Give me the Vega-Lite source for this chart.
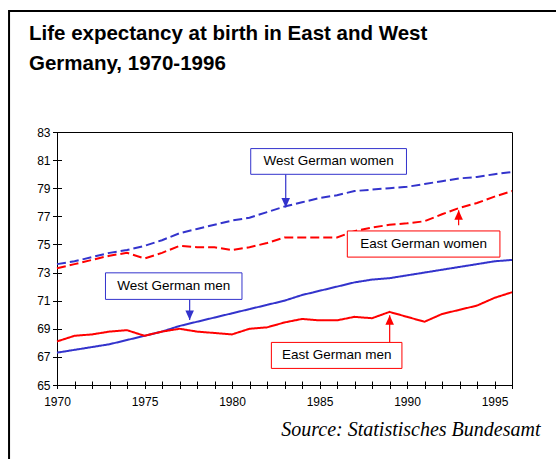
{
  "$schema": "https://vega.github.io/schema/vega-lite/v6.json",
  "autosize": "none",
  "width": 455,
  "height": 253,
  "padding": {"left": 57, "top": 132, "right": 44, "bottom": 74},
  "background": "white",
  "title": {
    "text": ["Life expectancy at birth in East and West", "Germany, 1970-1996"],
    "anchor": "start",
    "frame": "group",
    "font": "Liberation Sans",
    "fontSize": 20.5,
    "fontWeight": "bold",
    "lineHeight": 30,
    "color": "black",
    "dx": -28,
    "dy": 65,
    "offset": 0
  },
  "config": {
    "view": {"stroke": "black", "strokeWidth": 1},
    "axis": {"grid": false, "domain": false, "tickColor": "black", "labelColor": "black", "labelFont": "Liberation Sans", "labelFontSize": 12, "labelOverlap": false, "labelFlush": false}
  },
  "datasets": {
    "series": [
      {"year": 1970, "series": "West German women", "value": 73.6},
      {"year": 1971, "series": "West German women", "value": 73.8},
      {"year": 1972, "series": "West German women", "value": 74.1},
      {"year": 1973, "series": "West German women", "value": 74.4},
      {"year": 1974, "series": "West German women", "value": 74.6},
      {"year": 1975, "series": "West German women", "value": 74.9},
      {"year": 1976, "series": "West German women", "value": 75.3},
      {"year": 1977, "series": "West German women", "value": 75.8},
      {"year": 1978, "series": "West German women", "value": 76.1},
      {"year": 1979, "series": "West German women", "value": 76.4},
      {"year": 1980, "series": "West German women", "value": 76.7},
      {"year": 1981, "series": "West German women", "value": 76.9},
      {"year": 1982, "series": "West German women", "value": 77.3},
      {"year": 1983, "series": "West German women", "value": 77.7},
      {"year": 1984, "series": "West German women", "value": 78.0},
      {"year": 1985, "series": "West German women", "value": 78.3},
      {"year": 1986, "series": "West German women", "value": 78.5},
      {"year": 1987, "series": "West German women", "value": 78.8},
      {"year": 1988, "series": "West German women", "value": 78.9},
      {"year": 1989, "series": "West German women", "value": 79.0},
      {"year": 1990, "series": "West German women", "value": 79.1},
      {"year": 1991, "series": "West German women", "value": 79.3},
      {"year": 1992, "series": "West German women", "value": 79.5},
      {"year": 1993, "series": "West German women", "value": 79.7},
      {"year": 1994, "series": "West German women", "value": 79.8},
      {"year": 1995, "series": "West German women", "value": 80.0},
      {"year": 1996, "series": "West German women", "value": 80.15},
      {"year": 1970, "series": "East German women", "value": 73.3},
      {"year": 1971, "series": "East German women", "value": 73.6},
      {"year": 1972, "series": "East German women", "value": 73.9},
      {"year": 1973, "series": "East German women", "value": 74.2},
      {"year": 1974, "series": "East German women", "value": 74.4},
      {"year": 1975, "series": "East German women", "value": 74.0},
      {"year": 1976, "series": "East German women", "value": 74.4},
      {"year": 1977, "series": "East German women", "value": 74.9},
      {"year": 1978, "series": "East German women", "value": 74.8},
      {"year": 1979, "series": "East German women", "value": 74.8},
      {"year": 1980, "series": "East German women", "value": 74.6},
      {"year": 1981, "series": "East German women", "value": 74.8},
      {"year": 1982, "series": "East German women", "value": 75.1},
      {"year": 1983, "series": "East German women", "value": 75.5},
      {"year": 1984, "series": "East German women", "value": 75.5},
      {"year": 1985, "series": "East German women", "value": 75.5},
      {"year": 1986, "series": "East German women", "value": 75.5},
      {"year": 1987, "series": "East German women", "value": 75.95},
      {"year": 1988, "series": "East German women", "value": 76.2},
      {"year": 1989, "series": "East German women", "value": 76.4},
      {"year": 1990, "series": "East German women", "value": 76.5},
      {"year": 1991, "series": "East German women", "value": 76.65},
      {"year": 1992, "series": "East German women", "value": 77.15},
      {"year": 1993, "series": "East German women", "value": 77.6},
      {"year": 1994, "series": "East German women", "value": 77.95},
      {"year": 1995, "series": "East German women", "value": 78.4},
      {"year": 1996, "series": "East German women", "value": 78.8},
      {"year": 1970, "series": "West German men", "value": 67.3},
      {"year": 1971, "series": "West German men", "value": 67.5},
      {"year": 1972, "series": "West German men", "value": 67.7},
      {"year": 1973, "series": "West German men", "value": 67.9},
      {"year": 1974, "series": "West German men", "value": 68.2},
      {"year": 1975, "series": "West German men", "value": 68.5},
      {"year": 1976, "series": "West German men", "value": 68.8},
      {"year": 1977, "series": "West German men", "value": 69.2},
      {"year": 1978, "series": "West German men", "value": 69.5},
      {"year": 1979, "series": "West German men", "value": 69.8},
      {"year": 1980, "series": "West German men", "value": 70.1},
      {"year": 1981, "series": "West German men", "value": 70.4},
      {"year": 1982, "series": "West German men", "value": 70.7},
      {"year": 1983, "series": "West German men", "value": 71.0},
      {"year": 1984, "series": "West German men", "value": 71.4},
      {"year": 1985, "series": "West German men", "value": 71.7},
      {"year": 1986, "series": "West German men", "value": 72.0},
      {"year": 1987, "series": "West German men", "value": 72.3},
      {"year": 1988, "series": "West German men", "value": 72.5},
      {"year": 1989, "series": "West German men", "value": 72.6},
      {"year": 1990, "series": "West German men", "value": 72.8},
      {"year": 1991, "series": "West German men", "value": 73.0},
      {"year": 1992, "series": "West German men", "value": 73.2},
      {"year": 1993, "series": "West German men", "value": 73.4},
      {"year": 1994, "series": "West German men", "value": 73.6},
      {"year": 1995, "series": "West German men", "value": 73.8},
      {"year": 1996, "series": "West German men", "value": 73.9},
      {"year": 1970, "series": "East German men", "value": 68.1},
      {"year": 1971, "series": "East German men", "value": 68.5},
      {"year": 1972, "series": "East German men", "value": 68.6},
      {"year": 1973, "series": "East German men", "value": 68.8},
      {"year": 1974, "series": "East German men", "value": 68.9},
      {"year": 1975, "series": "East German men", "value": 68.5},
      {"year": 1976, "series": "East German men", "value": 68.8},
      {"year": 1977, "series": "East German men", "value": 69.0},
      {"year": 1978, "series": "East German men", "value": 68.8},
      {"year": 1979, "series": "East German men", "value": 68.7},
      {"year": 1980, "series": "East German men", "value": 68.6},
      {"year": 1981, "series": "East German men", "value": 69.0},
      {"year": 1982, "series": "East German men", "value": 69.1},
      {"year": 1983, "series": "East German men", "value": 69.45},
      {"year": 1984, "series": "East German men", "value": 69.7},
      {"year": 1985, "series": "East German men", "value": 69.6},
      {"year": 1986, "series": "East German men", "value": 69.6},
      {"year": 1987, "series": "East German men", "value": 69.85},
      {"year": 1988, "series": "East German men", "value": 69.75},
      {"year": 1989, "series": "East German men", "value": 70.2},
      {"year": 1990, "series": "East German men", "value": 69.85},
      {"year": 1991, "series": "East German men", "value": 69.5},
      {"year": 1992, "series": "East German men", "value": 70.05},
      {"year": 1993, "series": "East German men", "value": 70.35},
      {"year": 1994, "series": "East German men", "value": 70.65},
      {"year": 1995, "series": "East German men", "value": 71.2},
      {"year": 1996, "series": "East German men", "value": 71.6}
    ],
    "labels": [
      {"series": "West German women", "x1": 1981.07, "x2": 1989.97, "y1": 79.99, "y2": 81.82, "cx": 1985.52, "cy": 80.91, "ax": 1983.07, "from": 79.99, "tip": 77.63, "dir": "down"},
      {"series": "East German women", "x1": 1986.59, "x2": 1995.31, "y1": 74.1, "y2": 75.96, "cx": 1990.95, "cy": 75.03, "ax": 1992.95, "from": 76.37, "tip": 77.43, "dir": "up"},
      {"series": "West German men", "x1": 1972.77, "x2": 1980.57, "y1": 71.09, "y2": 72.98, "cx": 1976.67, "cy": 72.03, "ax": 1977.58, "from": 71.09, "tip": 69.62, "dir": "down"},
      {"series": "East German men", "x1": 1982.25, "x2": 1989.71, "y1": 66.18, "y2": 68.03, "cx": 1985.98, "cy": 67.11, "ax": 1989.01, "from": 68.03, "tip": 69.97, "dir": "up"}
    ],
    "frame": [
      {"x1": 1967.26, "x2": 2000, "y1": 58, "y2": 91.61}
    ]
  },
  "layer": [
    {
      "data": {"name": "frame"},
      "mark": {"type": "rect", "fill": "white", "fillOpacity": 0, "stroke": "black", "strokeWidth": 2},
      "encoding": {
        "x": {"field": "x1", "type": "quantitative",
          "scale": {"domain": [1970, 1996], "nice": false, "zero": false},
          "axis": {
            "values": [1970,1971,1972,1973,1974,1975,1976,1977,1978,1979,1980,1981,1982,1983,1984,1985,1986,1987,1988,1989,1990,1991,1992,1993,1994,1995,1996],
            "tickCount": 40,
            "format": "d",
            "labelExpr": "datum.value % 5 === 0 ? datum.label : ''",
            "offset": -4,
            "tickSize": 7.5,
            "labelPadding": 8,
            "title": "Source: Statistisches Bundesamt",
            "titleFont": "Liberation Serif",
            "titleFontStyle": "italic",
            "titleFontWeight": "normal",
            "titleFontSize": 20,
            "titleColor": "black",
            "titleAlign": "right",
            "titleBaseline": "alphabetic",
            "titleX": 483,
            "titleY": 54
          }
        },
        "x2": {"field": "x2"},
        "y": {"field": "y1", "type": "quantitative",
          "scale": {"domain": [65, 83], "nice": false, "zero": false},
          "axis": {
            "values": [65,67,69,71,73,75,77,79,81,83],
            "tickCount": 40,
            "format": "d",
            "offset": -4.5,
            "tickSize": 9,
            "labelPadding": 2.5,
            "title": null
          }
        },
        "y2": {"field": "y2"}
      }
    },
    {
      "data": {"name": "series"},
      "mark": {"type": "line", "strokeWidth": 2},
      "encoding": {
        "x": {"field": "year", "type": "quantitative"},
        "y": {"field": "value", "type": "quantitative"},
        "color": {"field": "series", "type": "nominal", "legend": null,
          "scale": {"domain": ["West German women", "East German women", "West German men", "East German men"], "range": ["#3333CC", "#FF0000", "#3333CC", "#FF0000"]}},
        "strokeDash": {"field": "series", "type": "nominal", "legend": null,
          "scale": {"domain": ["West German women", "East German women", "West German men", "East German men"], "range": [[9, 4], [9, 4], [1, 0], [1, 0]]}}
      }
    },
    {
      "data": {"name": "labels"},
      "mark": {"type": "rule", "strokeWidth": 1.2},
      "encoding": {
        "x": {"field": "ax", "type": "quantitative"},
        "y": {"field": "from", "type": "quantitative"},
        "y2": {"field": "tip"},
        "color": {"field": "series", "type": "nominal", "legend": null}
      }
    },
    {
      "data": {"name": "labels"},
      "mark": {"type": "point", "filled": true, "opacity": 1, "size": 360},
      "encoding": {
        "x": {"field": "ax", "type": "quantitative"},
        "y": {"field": "tip", "type": "quantitative"},
        "shape": {"field": "dir", "type": "nominal", "legend": null,
          "scale": {"domain": ["down", "up"], "range": ["M0,0L-0.45,-1L0.45,-1Z", "M0,0L-0.45,1L0.45,1Z"]}},
        "color": {"field": "series", "type": "nominal", "legend": null}
      }
    },
    {
      "data": {"name": "labels"},
      "mark": {"type": "rect", "fill": "white", "strokeWidth": 1},
      "encoding": {
        "x": {"field": "x1", "type": "quantitative"},
        "x2": {"field": "x2"},
        "y": {"field": "y1", "type": "quantitative"},
        "y2": {"field": "y2"},
        "stroke": {"field": "series", "type": "nominal", "legend": null,
          "scale": {"domain": ["West German women", "East German women", "West German men", "East German men"], "range": ["#3333CC", "#FF0000", "#3333CC", "#FF0000"]}}
      }
    },
    {
      "data": {"name": "labels"},
      "mark": {"type": "text", "font": "Liberation Sans", "fontSize": 13.5, "color": "black", "align": "center", "baseline": "middle"},
      "encoding": {
        "x": {"field": "cx", "type": "quantitative"},
        "y": {"field": "cy", "type": "quantitative"},
        "text": {"field": "series"}
      }
    }
  ]
}
